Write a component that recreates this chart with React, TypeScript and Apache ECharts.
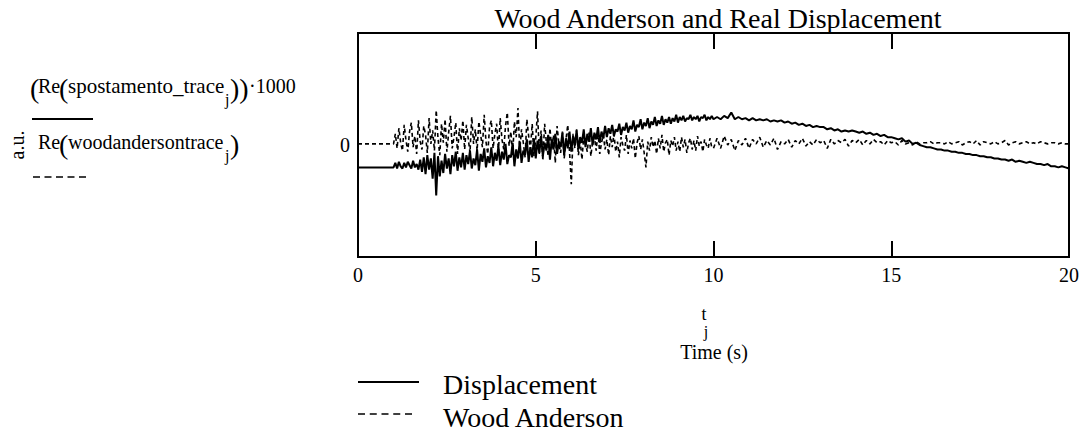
import React, { useEffect, useRef } from "react";
import * as echarts from "echarts";

const xMin = 0;
const xMax = 20;
const xInterval = 5;
const yMin = -1;
const yMax = 1;

const titleText = "Wood Anderson and Real Displacement";
const seriesNames = ["Displacement", "Wood Anderson"];
const xAxisTitle = "Time (s)";
const yAxisTitle = "a.u.";

// ---- Displacement (×1000) ----
// t = 0.0 … 0.9 s, step 0.1
const dispStart = [-0.20, -0.20, -0.20, -0.20, -0.20, -0.20, -0.20, -0.20, -0.20, -0.20];
// t = 1.00 … 2.95 s, step 0.05
const dispNoisy1 = [
  -0.20, -0.16, -0.21, -0.15, -0.19, -0.21, -0.16, -0.20, -0.15, -0.18,
  -0.21, -0.14, -0.20, -0.17, -0.22, -0.13, -0.24, -0.11, -0.26, -0.09,
  -0.22, -0.12, -0.30, -0.07, -0.45, -0.10, -0.28, -0.14, -0.25, -0.08,
  -0.21, -0.12, -0.26, -0.09, -0.19, -0.06, -0.23, -0.11, -0.20, -0.07,
];
// t = 3.00 … 4.95 s, step 0.05
const dispNoisy2 = [
  -0.22, -0.09, -0.17, -0.05, -0.21, -0.12, -0.18, -0.04, -0.23, -0.08,
  -0.15, -0.03, -0.20, -0.10, -0.16, -0.02, -0.19, -0.07, -0.14, -0.01,
  -0.18, -0.06, -0.13, 0.01, -0.17, -0.09, -0.11, 0.02, -0.19, -0.04,
  -0.12, 0.03, -0.16, -0.05, -0.09, 0.05, -0.15, -0.02, -0.11, 0.06,
];
// t = 5.00 … 6.95 s, step 0.05
const dispNoisy3 = [
  -0.12, 0.04, -0.07, 0.08, -0.10, 0.02, -0.05, 0.09, -0.13, 0.05,
  -0.04, 0.10, -0.08, 0.03, -0.02, 0.11, -0.09, 0.06, -0.03, 0.12,
  -0.06, 0.08, 0.00, 0.13, -0.04, 0.07, 0.02, 0.14, -0.02, 0.10,
  0.03, 0.15, 0.00, 0.11, 0.05, 0.16, 0.02, 0.12, 0.06, 0.17,
];
// t = 7.00 … 8.95 s, step 0.05
const dispNoisy4 = [
  0.07, 0.15, 0.10, 0.18, 0.08, 0.14, 0.12, 0.19, 0.09, 0.16,
  0.13, 0.20, 0.11, 0.17, 0.14, 0.22, 0.12, 0.18, 0.16, 0.23,
  0.14, 0.20, 0.17, 0.24, 0.15, 0.21, 0.18, 0.25, 0.17, 0.22,
  0.19, 0.26, 0.18, 0.23, 0.20, 0.25, 0.19, 0.24, 0.21, 0.27,
];
// t = 9.00 … 9.95 s, step 0.05
const dispNoisy5 = [
  0.20, 0.25, 0.22, 0.26, 0.21, 0.24, 0.23, 0.27, 0.22, 0.25,
  0.23, 0.26, 0.21, 0.25, 0.24, 0.27, 0.22, 0.25, 0.23, 0.26,
];
// t = 10.0 … 14.9 s, step 0.1
const dispTail1 = [
  0.23, 0.25, 0.23, 0.26, 0.24, 0.29, 0.23, 0.25, 0.23, 0.24,
  0.22, 0.24, 0.22, 0.23, 0.22, 0.23, 0.21, 0.22, 0.21, 0.22,
  0.20, 0.21, 0.19, 0.20, 0.18, 0.19, 0.17, 0.18, 0.16, 0.17,
  0.16, 0.16, 0.14, 0.15, 0.13, 0.14, 0.12, 0.13, 0.12, 0.13,
  0.12, 0.11, 0.12, 0.10, 0.11, 0.09, 0.10, 0.08, 0.09, 0.07,
];
// t = 15.0 … 20.0 s, step 0.1
const dispTail2 = [
  0.07, 0.06, 0.05, 0.06, 0.03, 0.04, 0.01, 0.02, 0.00, -0.01,
  -0.02, -0.02, -0.03, -0.04, -0.04, -0.05, -0.05, -0.06, -0.06, -0.07,
  -0.07, -0.08, -0.08, -0.09, -0.09, -0.10, -0.10, -0.11, -0.11, -0.12,
  -0.12, -0.13, -0.13, -0.14, -0.13, -0.15, -0.14, -0.15, -0.16, -0.15,
  -0.16, -0.17, -0.17, -0.18, -0.17, -0.19, -0.19, -0.20, -0.19, -0.20,
  -0.21,
];

// ---- Wood Anderson ----
const waStart = [0.01, 0.01, 0.01, 0.01, 0.01, 0.01, 0.01, 0.01, 0.01, 0.01];
const waNoisy1 = [
  0.01, 0.10, -0.03, 0.15, 0.02, -0.05, 0.18, 0.04, -0.06, 0.12,
  0.20, -0.02, 0.08, -0.08, 0.22, 0.03, -0.04, 0.17, 0.09, -0.07,
  0.24, 0.01, 0.13, -0.05, 0.31, 0.06, -0.09, 0.19, 0.02, 0.23,
  -0.06, 0.11, 0.26, -0.03, 0.07, 0.20, -0.08, 0.15, 0.04, 0.22,
];
const waNoisy2 = [
  -0.04, 0.18, 0.06, -0.07, 0.25, 0.01, 0.14, -0.05, 0.21, 0.09,
  -0.02, 0.27, 0.03, -0.08, 0.16, 0.22, -0.03, 0.10, 0.19, -0.06,
  0.24, 0.05, -0.04, 0.17, 0.29, -0.01, 0.12, -0.09, 0.21, 0.07,
  0.33, -0.05, 0.14, 0.02, -0.11, 0.23, 0.08, -0.04, 0.19, -0.10,
];
const waNoisy3 = [
  0.06, 0.30, -0.08, 0.13, -0.14, 0.19, 0.02, -0.10, 0.15, -0.04,
  0.09, -0.16, 0.17, 0.01, -0.07, 0.12, -0.12, 0.05, 0.18, -0.06,
  -0.35, 0.10, -0.03, 0.14, -0.09, 0.04, -0.13, 0.08, 0.01, -0.06,
  0.11, -0.10, 0.03, 0.07, -0.05, 0.12, -0.08, 0.02, 0.09, -0.04,
];
const waNoisy4 = [
  0.05, -0.09, 0.08, -0.02, 0.10, -0.06, 0.03, -0.11, 0.07, 0.00,
  -0.05, 0.09, -0.08, 0.04, -0.03, 0.06, -0.12, 0.02, 0.08, -0.04,
  0.05, -0.07, -0.20, 0.03, -0.05, 0.07, -0.02, 0.04, -0.08, 0.06,
  -0.03, 0.09, -0.06, 0.02, 0.05, -0.09, 0.04, -0.01, 0.07, -0.05,
];
const waNoisy5 = [
  0.03, -0.06, 0.07, -0.02, 0.05, -0.07, 0.02, 0.06, -0.04, 0.04,
  -0.05, 0.08, -0.01, 0.03, -0.06, 0.05, 0.00, -0.03, 0.06, -0.02,
];
const waTail1 = [
  -0.03, 0.06, -0.03, 0.08, 0.00, 0.05, -0.05, 0.04, 0.00, 0.06,
  -0.03, 0.05, 0.01, 0.07, -0.02, 0.04, 0.00, 0.06, -0.04, 0.03,
  0.01, 0.05, -0.02, 0.04, 0.01, 0.06, -0.01, 0.03, 0.00, 0.05,
  0.02, 0.04, -0.03, 0.05, 0.01, 0.04, 0.02, 0.05, -0.01, 0.04,
  0.02, 0.05, 0.00, 0.04, 0.01, 0.05, 0.02, 0.03, 0.00, 0.04,
];
const waTail2 = [
  0.02, 0.03, 0.00, 0.04, 0.01, 0.02, 0.00, 0.03, 0.01, 0.02,
  0.02, 0.03, 0.01, 0.02, 0.02, 0.01, 0.03, 0.01, 0.02, 0.03,
  0.00, 0.02, 0.03, 0.01, 0.04, 0.00, 0.03, 0.02, 0.01, 0.03,
  0.01, 0.02, 0.04, 0.00, 0.02, 0.03, 0.01, 0.02, 0.03, 0.01,
  0.02, 0.01, 0.03, 0.02, 0.01, 0.02, 0.02, 0.01, 0.02, 0.01,
  0.01,
];

// segment start times (s) and sample steps (s), shared by both traces
const segStarts = [0, 1, 3, 5, 7, 9, 10, 15];
const segSteps = [0.1, 0.05, 0.05, 0.05, 0.05, 0.05, 0.1, 0.1];
const dispSegments = [dispStart, dispNoisy1, dispNoisy2, dispNoisy3, dispNoisy4, dispNoisy5, dispTail1, dispTail2];
const waSegments = [waStart, waNoisy1, waNoisy2, waNoisy3, waNoisy4, waNoisy5, waTail1, waTail2];

const SERIF_FAMILY = "Liberation Serif";

function buildPairs(segments: number[][]) {
  const out: number[][] = [];
  segments.forEach((vals, s) => {
    vals.forEach((v, i) => {
      out.push([Number((segStarts[s] + i * segSteps[s]).toFixed(2)), v]);
    });
  });
  return out;
}

function txt(text: string, x: number, y: number, size: number, align = "left", extra: any = {}) {
  return {
    type: "text",
    x,
    y,
    ...extra,
    style: {
      text,
      font: `${size}px "${SERIF_FAMILY}"`,
      fill: "#000",
      textAlign: align,
      textVerticalAlign: "middle",
    },
  };
}

export default function App() {
  const ref = useRef<HTMLDivElement>(null);

  useEffect(() => {
    if (!ref.current) return;
    const chart = echarts.init(ref.current, null, { renderer: "svg" });
    const disp = buildPairs(dispSegments);
    const wa = buildPairs(waSegments);

    const tickStyle = {
      show: true,
      inside: true,
      length: 16,
      lineStyle: { color: "#000", width: 2 },
    };

    chart.setOption({
      animation: false,
      backgroundColor: "#fff",
      grid: {
        left: 358,
        right: 18,
        top: 33,
        bottom: 175,
        show: true,
        borderColor: "#000",
        borderWidth: 2,
        backgroundColor: "transparent",
      },
      xAxis: [
        {
          type: "value",
          min: xMin,
          max: xMax,
          interval: xInterval,
          position: "bottom",
          axisLine: { show: false, onZero: false },
          axisTick: tickStyle,
          splitLine: { show: false },
          axisLabel: {
            color: "#000",
            fontFamily: SERIF_FAMILY,
            fontSize: 20,
            margin: 8,
          },
        },
        {
          type: "value",
          min: xMin,
          max: xMax,
          interval: xInterval,
          position: "top",
          axisLine: { show: false, onZero: false },
          axisTick: tickStyle,
          splitLine: { show: false },
          axisLabel: { show: false },
        },
      ],
      yAxis: {
        type: "value",
        min: yMin,
        max: yMax,
        interval: 1,
        axisLine: { show: false, onZero: false },
        axisTick: { show: false },
        splitLine: { show: false },
        axisLabel: {
          color: "#000",
          fontFamily: SERIF_FAMILY,
          fontSize: 20,
          margin: 8,
          formatter: (v: number) => (v === 0 ? "0" : ""),
        },
      },
      series: [
        {
          type: "line",
          name: seriesNames[1],
          data: wa,
          symbol: "none",
          xAxisIndex: 0,
          lineStyle: { color: "#000", width: 1.6, type: [4, 3] },
        },
        {
          type: "line",
          name: seriesNames[0],
          data: disp,
          symbol: "none",
          xAxisIndex: 0,
          lineStyle: { color: "#000", width: 2 },
        },
      ],
      graphic: [
        txt(titleText, 718, 18.5, 28, "center"),
        // y-axis expression block
        txt(yAxisTitle, 17, 145, 20, "center", { rotation: Math.PI / 2 }),
        txt("(", 30, 88, 28),
        txt("Re", 38, 86, 20),
        txt("(", 59, 88, 28),
        txt("spostamento_trace", 68, 86, 21),
        txt("j", 225, 99, 16),
        txt("))", 230, 88, 28),
        txt("·1000", 249, 86, 20),
        {
          type: "line",
          shape: { x1: 32, y1: 119, x2: 93, y2: 119 },
          style: { stroke: "#000", lineWidth: 2 },
        },
        txt("Re", 38, 142, 20),
        txt("(", 59, 144, 28),
        txt("woodandersontrace", 68, 142, 20),
        txt("j", 225, 155, 16),
        txt(")", 230, 144, 28),
        {
          type: "line",
          shape: { x1: 33, y1: 177, x2: 86, y2: 177 },
          style: { stroke: "#000", lineWidth: 1.5, lineDash: [7, 4.5] },
        },
        // x-axis expression
        txt("t", 704, 314, 18, "center"),
        txt("j", 706, 331, 16, "center"),
        txt(xAxisTitle, 714, 352, 20, "center"),
        // legend
        {
          type: "line",
          shape: { x1: 358, y1: 382, x2: 419, y2: 382 },
          style: { stroke: "#000", lineWidth: 2 },
        },
        txt(seriesNames[0], 443, 384, 28),
        {
          type: "line",
          shape: { x1: 358, y1: 414, x2: 412, y2: 414 },
          style: { stroke: "#000", lineWidth: 1.5, lineDash: [7, 4.75] },
        },
        txt(seriesNames[1], 443, 417, 28),
      ],
    });

    return () => chart.dispose();
  }, []);

  return (
    <div
      ref={ref}
      style={{
        position: "fixed",
        left: 0,
        top: 0,
        width: 1087,
        height: 432,
        background: "#fff",
      }}
    />
  );
}
